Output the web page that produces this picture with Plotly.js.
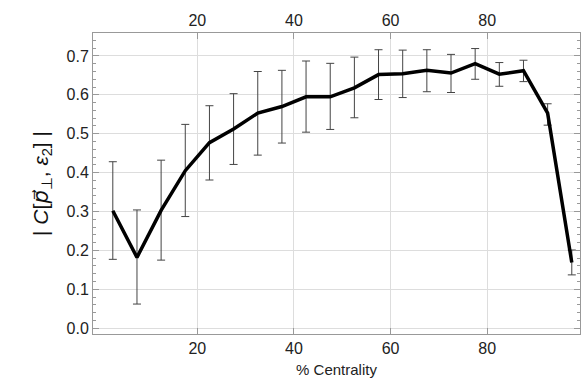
<!DOCTYPE html>
<html><head><meta charset="utf-8">
<script src="https://cdn.plot.ly/plotly-3.0.1.min.js"></script>
<style>html,body{margin:0;padding:0;background:#fff}</style>
</head><body>
<div id="chart" style="width:584px;height:387px"></div>
<script>
const centrality = [2.5,7.5,12.5,17.5,22.5,27.5,32.5,37.5,42.5,47.5,52.5,57.5,62.5,67.5,72.5,77.5,82.5,87.5,92.5,97.5];
const corr = [0.302,0.182,0.303,0.405,0.477,0.512,0.553,0.570,0.595,0.595,0.618,0.652,0.654,0.663,0.656,0.680,0.653,0.662,0.553,0.169];
const errUp = [0.126,0.122,0.129,0.119,0.095,0.091,0.107,0.093,0.092,0.086,0.079,0.064,0.061,0.053,0.048,0.039,0.030,0.027,0.024,0.032];
const errDown = [0.125,0.120,0.128,0.118,0.096,0.091,0.108,0.094,0.091,0.084,0.077,0.064,0.061,0.055,0.050,0.040,0.031,0.028,0.031,0.032];
const xTicks = [20,40,60,80];

const font = {family:'Liberation Sans, Arial, sans-serif', color:'#222'};
const data = [
  {x:centrality, y:corr, type:'scatter', mode:'lines', xaxis:'x', yaxis:'y',
   line:{color:'#000', width:3.5},
   error_y:{type:'data', symmetric:false, array:errUp, arrayminus:errDown, color:'#444', thickness:1, width:4},
   hoverinfo:'skip', showlegend:false},
  {x:centrality, y:corr, type:'scatter', mode:'lines', xaxis:'x2', yaxis:'y',
   line:{color:'rgba(0,0,0,0)', width:0}, hoverinfo:'skip', showlegend:false}
];
const axisCommon = {showline:true, linecolor:'#999', linewidth:1, gridcolor:'#ddd', gridwidth:1,
  ticks:'inside', ticklen:6, tickcolor:'#999', zeroline:false, tickfont:{...font, size:16}};
const layout = {
  width:584, height:387, paper_bgcolor:'#fff', plot_bgcolor:'#fff',
  margin:{l:93, r:4, t:33, b:53},
  font:font,
  xaxis:{...axisCommon, range:[-1.6,99.2], tickmode:'array', tickvals:xTicks, ticktext:xTicks.map(String),
    title:{text:'% Centrality', font:{...font, size:15}, standoff:8}},
  xaxis2:{...axisCommon, overlaying:'x', side:'top', matches:'x', range:[-1.6,99.2], tickmode:'array', tickvals:xTicks, ticktext:xTicks.map(String),
    showgrid:false},
  yaxis:{...axisCommon, range:[-0.015,0.759], tickmode:'linear', tick0:0, dtick:0.1, tickformat:'.1f', mirror:'ticks',
    minor:{tickmode:'linear', tick0:0, dtick:0.02, ticks:'inside', ticklen:3, tickcolor:'#999', tickwidth:1, showgrid:false},
    title:{text:'| <i>C</i>[<span style="font-family:DejaVu Sans"><i>p\u20D7</i></span><sub>⊥</sub>, <i>ε</i><sub>2</sub>] |', font:{...font, size:21, color:'#111'}, standoff:12}}
};
Plotly.newPlot('chart', data, layout, {displayModeBar:false, staticPlot:true});
</script>
</body></html>
